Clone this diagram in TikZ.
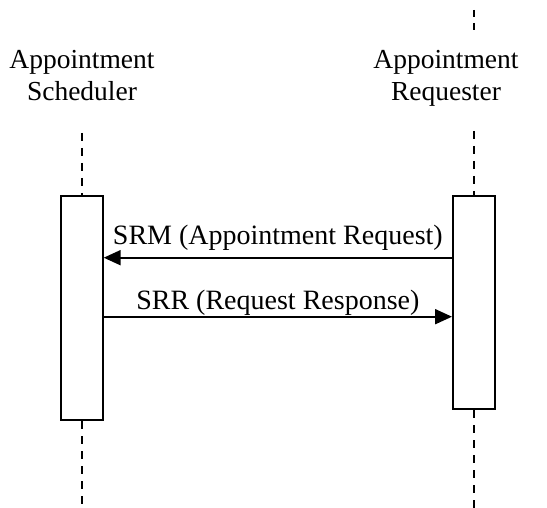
\documentclass[tikz,border=0pt]{standalone}
\usepackage{fontspec}
\setmainfont{Liberation Serif}
\usetikzlibrary{arrows.meta,positioning}

\begin{document}
\begin{tikzpicture}
					[
						x=1pt, y=-1pt,
						headlabel/.style={align=center, inner sep=0pt, anchor=base, font=\fontsize{27.5}{32.7}\selectfont},
						actbox/.style={rectangle, draw=black, fill=white, line width=2pt, minimum width=42pt, inner sep=0pt},
						lifeline/.style={draw=black, line width=2pt, dash pattern=on 8pt off 7pt},
						msgarrow/.style={line width=2pt, -{Triangle[length=17pt,width=15pt]}},
						msglabel/.style={inner sep=0pt, anchor=base, font=\fontsize{28}{32}\selectfont},
					]
					\useasboundingbox (0,0) rectangle (547,508);

					% lifeline heads
					\node[headlabel] (schedlabel) at (82,101) {Appointment\\Scheduler};
					\node[headlabel] (reqlabel) at (446,101) {Appointment\\Requester};

					% activation boxes
					\node[actbox, minimum height=224pt] (schedbox) at (81.7,308) {};
					\node[actbox, minimum height=213pt] (reqbox) at (474,302.5) {};

					% lifeline end points
					\coordinate (schedtop) at (81.7,133);
					\coordinate (schedend) at (81.7,508);
					\coordinate (reqstub) at (474,10);
					\coordinate (reqstubend) at (474,30);
					\coordinate (reqtop) at (474,131);
					\coordinate (reqend) at (474,508);

					\draw[lifeline] (schedtop) -- (schedbox.north);
					\draw[lifeline] (schedbox.south) -- (schedend);
					\draw[lifeline, dash pattern=on 7pt off 6pt] (reqstub) -- (reqstubend);
					\draw[lifeline] (reqtop) -- (reqbox.north);
					\draw[lifeline] (reqbox.south) -- (reqend);

					% messages
					\coordinate (srm) at (0,257.7);
					\coordinate (srr) at (0,316.7);
					\draw[msgarrow] (reqbox.west |- srm) -- node[msglabel, yshift=13.4pt] (srmlabel) {SRM (Appointment Request)} (schedbox.east |- srm);
					\draw[msgarrow] (schedbox.east |- srr) -- node[msglabel, yshift=7.4pt] (srrlabel) {SRR (Request Response)} (reqbox.west |- srr);

				\end{tikzpicture}
\end{document}
